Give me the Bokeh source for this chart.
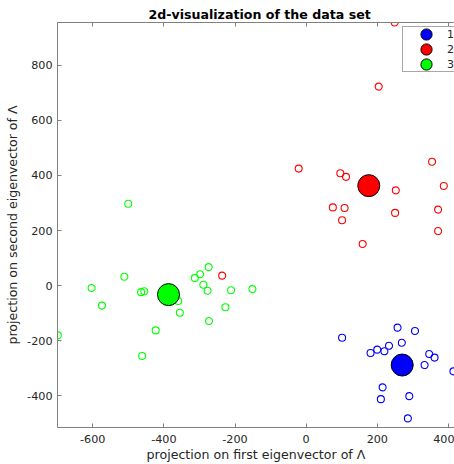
from bokeh.plotting import figure
from bokeh.models import (FixedTicker, LinearAxis, Legend, LegendItem, Range1d,
                          CustomLabelingPolicy)
from bokeh.embed import file_html
from bokeh.resources import INLINE

# ---- data -------------------------------------------------------------
title_text = "2d-visualization of the data set"
x_label = "projection on first eigenvector of \u039b"
y_label = "projection on second eigenvector of \u039b"

x_ticks = [-600, -400, -200, 0, 200, 400]
x_tick_labels = ["-600", "-400", "-200", "0", "200", "400"]
y_ticks = [-400, -200, 0, 200, 400, 600, 800]
y_tick_labels = ["-400", "-200", "0", "200", "400", "600", "800"]
x_limits = (-699, 417)
y_limits = (-516, 956)

cluster_names = ["1", "2", "3"]
cluster_colors = ["#0000ff", "#ff0000", "#00ff00"]

c1_x = [101, 257, 306, 181, 200, 220, 233, 269, 346, 361, 333, 414, 215, 210, 290, 286]
c1_y = [-190, -153, -165, -245, -233, -239, -219, -208, -249, -262, -289, -312, -370, -413, -402, -483]

c2_x = [-21, 96, 112, 354, 252, 387, 75, 108, 101, 250, 371, 371, 159, 249, 204, -236]
c2_y = [425, 408, 395, 450, 346, 362, 284, 282, 237, 264, 276, 198, 151, 956, 723, 36]

c3_x = [-603, -574, -511, -464, -455, -698, -461, -423, -360, -355, -313, -298, -274, -289, -277, -273, -227, -211, -151, -500]
c3_y = [-9, -73, 32, -24, -21, -181, -256, -163, -56, -99, 27, 41, 67, 3, -19, -129, -79, -17, -13, 297]

centroid_x = [270, 176, -387]
centroid_y = [-289, 363, -33]

# ---- styling ----------------------------------------------------------
FONT = "DejaVu Sans"
AXIS_GREY = "#808080"
TEXT_COL = "#262626"

p = figure(width=454, height=464, output_backend="svg", toolbar_location=None,
           x_range=Range1d(*x_limits), y_range=Range1d(*y_limits),
           min_border_left=57, min_border_right=0, min_border_top=22,
           min_border_bottom=37)
p.outline_line_color = None
p.grid.visible = False
p.background_fill_color = "white"
p.border_fill_color = "white"

p.title.text = title_text
p.title.text_font = FONT
p.title.text_font_style = "bold"
p.title.text_font_size = "12.6px"
p.title.text_color = "#000000"
p.title.align = "left"
p.title.offset = 91
p.title.standoff = 2

def style_axis(ax, ticks, labels):
    ax.ticker = FixedTicker(ticks=ticks)
    ax.major_label_overrides = {t: l for t, l in zip(ticks, labels)}
    ax.major_tick_in = 4
    ax.major_tick_out = 0
    ax.minor_tick_line_color = None
    ax.axis_line_color = AXIS_GREY
    ax.major_tick_line_color = AXIS_GREY
    ax.major_label_text_font = FONT
    ax.major_label_text_font_size = "11.2px"
    ax.major_label_text_color = TEXT_COL
    ax.axis_label_text_font = FONT
    ax.axis_label_text_font_size = "12.6px"
    ax.axis_label_text_font_style = "normal"
    ax.axis_label_text_color = TEXT_COL

xax = p.xaxis[0]
style_axis(xax, x_ticks, x_tick_labels)
xax.axis_label = x_label
xax.major_label_standoff = 7
xax.axis_label_standoff = 1

yax = p.yaxis[0]
style_axis(yax, y_ticks, y_tick_labels)
yax.axis_label = y_label
yax.major_label_standoff = 5
yax.axis_label_standoff = 4

# top edge of the box with inward ticks, no labels
top = LinearAxis()
style_axis(top, x_ticks, x_tick_labels)
top.major_label_text_font_size = "0px"
top.major_label_standoff = 0
top.major_label_policy = CustomLabelingPolicy(
    code="for (const i of Array.from(indices)) indices.unset(i); return indices")
p.add_layout(top, "above")

# ---- marks ------------------------------------------------------------
for xs, ys, col in zip([c1_x, c2_x, c3_x], [c1_y, c2_y, c3_y], cluster_colors):
    p.scatter(xs, ys, marker="circle", size=7, fill_color=None,
              line_color=col, line_width=1.1)

centroid_renderers = []
for i, col in enumerate(cluster_colors):
    r = p.ellipse(x=[centroid_x[i]], y=[centroid_y[i]], width=22, height=22,
                  width_units="screen", height_units="screen",
                  fill_color=col, line_color="black", line_width=1)
    centroid_renderers.append(r)

legend = Legend(items=[LegendItem(label=n, renderers=[r])
                       for n, r in zip(cluster_names, centroid_renderers)],
                location=(345, 355), glyph_width=14, glyph_height=14,
                label_height=14, spacing=1,
                padding=dict(left=16, right=10, top=0, bottom=0),
                label_standoff=14, label_width=40,
                margin=0, border_line_color="#505050", border_line_width=1,
                background_fill_color="white", background_fill_alpha=1,
                label_text_font=FONT, label_text_font_size="11px",
                label_text_color=TEXT_COL)
p.add_layout(legend)

open("out.html", "w").write(file_html(p, INLINE))
